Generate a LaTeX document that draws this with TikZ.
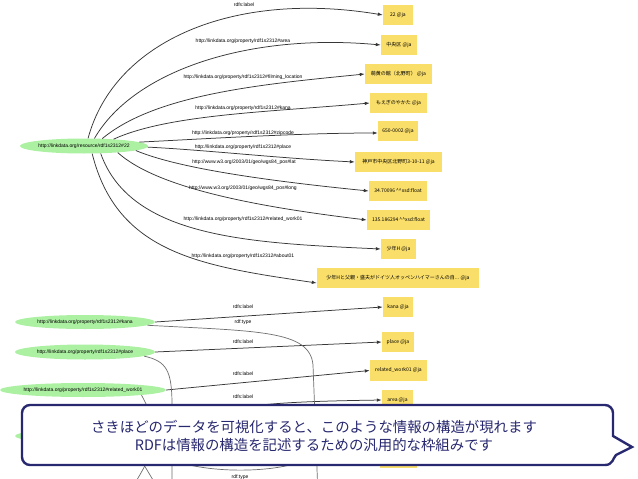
\documentclass[tikz,border=0pt]{standalone}
\usepackage{fontspec}
\setmainfont{Liberation Sans}
\newfontfamily\cjk{Noto Sans CJK JP}
\usetikzlibrary{shapes.geometric,arrows.meta,calc}
\definecolor{nodegreen}{RGB}{172,240,162}
\definecolor{boxyellow}{RGB}{250,222,106}
\definecolor{edgegray}{RGB}{55,55,55}
\definecolor{typegray}{RGB}{110,110,110}
\definecolor{navy}{RGB}{40,40,112}
\begin{document}
\begin{tikzpicture}[x=1pt,y=-1pt,
  res/.style={ellipse, fill=nodegreen, inner sep=0pt, font=\fontsize{5}{6}\selectfont},
  lit/.style={rectangle, fill=boxyellow, inner xsep=2pt, inner ysep=0pt, minimum height=20pt, font=\cjk\fontsize{5}{6}\selectfont},
  elabel/.style={inner sep=0pt, font=\fontsize{5}{6}\selectfont},
  edge/.style={draw=edgegray, line width=0.75pt, -{Latex[length=5pt,width=3.5pt]}},
  typeedge/.style={draw=typegray, line width=0.7pt},
  callout/.style={draw=navy, line width=2.4pt, fill=white},
  msgtext/.style={font=\cjk\fontsize{14.4}{18}\selectfont, text=navy, align=center, inner sep=0pt}
]
\useasboundingbox (0,0) rectangle (638,479);
\clip (0,0) rectangle (638,479);
\fill[white] (0,0) rectangle (638,479);

% ---------- upper graph ----------
\node[res, minimum width=128pt, minimum height=15pt] (src) at (84,146) {\makebox[0pt]{http://linkdata.org/resource/rdf1s2312\#22}};

\node[lit, minimum width=30pt] (b1) at (398,15) {22 @ja};
\node[lit, minimum width=36pt] (b2) at (399,45) {中央区 @ja};
\node[lit, minimum width=67pt] (b3) at (398.5,74) {萌黄の館（北野町） @ja};
\node[lit, minimum width=57pt] (b4) at (398.5,103) {もえぎのやかた @ja};
\node[lit, minimum width=40pt] (b5) at (398,131) {650-0002 @ja};
\node[lit, minimum width=87pt] (b6) at (398.5,162) {神戸市中央区北野町3-10-11 @ja};
\node[lit, minimum width=58pt] (b7) at (398,191) {34.70096 \textasciicircum\textasciicircum xsd:float};
\node[lit, minimum width=63pt] (b8) at (398.5,220) {135.186294 \textasciicircum\textasciicircum xsd:float};
\node[lit, minimum width=35pt] (b9) at (398.5,249) {少年H @ja};
\node[lit, minimum width=162pt] (b10) at (398,278) {少年Hと父親・盛夫がドイツ人オッペンハイマーさんの自... @ja};

\node[elabel] (l1) at (244,5) {rdfs:label};
\node[elabel] (l2) at (243,41) {http://linkdata.org/property/rdf1s2312\#area};
\node[elabel] (l3) at (243,77) {http://linkdata.org/property/rdf1s2312\#filming\_location};
\node[elabel] (l4) at (243,108) {http://linkdata.org/property/rdf1s2312\#kana};
\node[elabel] (l5) at (243,133) {http://linkdata.org/property/rdf1s2312\#zipcode};
\node[elabel] (l6) at (243,147) {http://linkdata.org/property/rdf1s2312\#place};
\node[elabel] (l7) at (244,162) {http://www.w3.org/2003/01/geo/wgs84\_pos\#lat};
\node[elabel] (l8) at (243,188) {http://www.w3.org/2003/01/geo/wgs84\_pos\#long};
\node[elabel] (l9) at (243,219) {http://linkdata.org/property/rdf1s2312\#related\_work01};
\node[elabel] (l10) at (243,256) {http://linkdata.org/property/rdf1s2312\#about01};

\draw[edge] (src.62) .. controls ($(src.62)+(26,-97)$) and ($(b1.west)+(-150,-25)$) .. (b1.west);
\draw[edge] (src.36) .. controls ($(src.36)+(40,-69)$) and ($(b2.west)+(-130,-12)$) .. (b2.west);
\draw[edge] (src.22) .. controls ($(src.22)+(54,-45)$) and ($(b3.west)+(-100,10)$) .. (b3.west);
\draw[edge] (src.13) .. controls ($(src.13)+(55,-25)$) and ($(b4.west)+(-100,9)$) .. (b4.west);
\draw[edge] (src.4) .. controls ($(src.4)+(60,-3)$) and ($(b5.west)+(-80,2)$) .. ($(b5.west)+(0,2)$);
\draw[edge] (src.-1) .. controls ($(src.-1)+(60,3)$) and ($(b6.west)+(-80,-4)$) .. (b6.west);
\draw[edge] (src.-5) .. controls ($(src.-5)+(45,19)$) and ($(b7.west)+(-90,-9)$) .. (b7.west);
\draw[edge] (src.-11) .. controls ($(src.-11)+(40,36)$) and ($(b8.west)+(-108,-13)$) .. (b8.west);
\draw[edge] (src.-24) .. controls ($(src.-24)+(30,85)$) and ($(b9.west)+(-129,-6)$) .. (b9.west);
\draw[edge] (src.-43) .. controls ($(src.-43)+(25,100)$) and ($(b10.west)+(-116,-12)$) .. ($(b10.west)+(0,5)$);

% ---------- lower graph ----------
\node[res, minimum width=140pt, minimum height=14pt] (ek) at (85,322) {\makebox[0pt]{http://linkdata.org/property/rdf1s2312\#kana}};
\node[res, minimum width=140pt, minimum height=15pt] (ep) at (85,352) {\makebox[0pt]{http://linkdata.org/property/rdf1s2312\#place}};
\node[res, minimum width=166pt, minimum height=14pt] (er) at (83,390) {\makebox[0pt]{http://linkdata.org/property/rdf1s2312\#related\_work01}};
\node[res, minimum width=140pt, minimum height=14pt] (ea) at (85,436) {};

\node[lit, minimum width=30pt] (bk) at (398,307) {kana @ja};
\node[lit, minimum width=32pt] (bp) at (398,342) {place @ja};
\node[lit, minimum width=57pt, minimum height=21pt] (br) at (398.5,370.5) {related\_work01 @ja};
\node[lit, minimum width=31pt] (ba) at (397.5,400) {area @ja};
\node[lit, minimum width=37pt] (bx) at (398.5,458) {};

\node[elabel] (lk) at (243,307) {rdfs:label};
\node[elabel] (lkt) at (243,322) {rdf:type};
\node[elabel] (lp) at (243,342) {rdfs:label};
\node[elabel] (lr) at (243,374) {rdfs:label};
\node[elabel] (la) at (243,397) {rdfs:label};
\node[elabel] (lbt) at (240,477) {rdf:type};

\draw[edge] (ek.east) -- (bk.west);
\draw[edge] (ep.east) -- (bp.west);
\draw[edge] (er.east) -- (br.west);
\draw[edge] (ea.east) .. controls ($(ea.east)+(60,-30)$) and ($(ba.west)+(-130,2)$) .. (ba.west);

\coordinate (kt) at (318,495);
\coordinate (pt) at (172,495);
\coordinate (ct) at (316,452);
\coordinate (d1) at (128,495);
\coordinate (d2) at (162,495);
\draw[typeedge] (ek.-3) .. controls ($(ek.-3)+(110,6)$) and ($(kt)+(-8,-165)$) .. ($(kt)+(-5,-130)$) -- (kt);
\draw[typeedge] (ep.-4) .. controls ($(ep.-4)+(22,5)$) and ($(pt)+(0,-125)$) .. ($(pt)+(0,-90)$) -- (pt);
\draw[typeedge] (ea.-4) .. controls ($(ea.-4)+(25,40)$) and ($(ct)+(-15,24)$) .. (ct);
\draw[typeedge] (er.-5) .. controls ($(er.-5)+(25,45)$) and ($(d1)+(20,-35)$) .. (d1);
\draw[typeedge] (ea.-7) -- (d2);

% ---------- callout ----------
\draw[callout] (30,405) -- (605,405) .. controls (609.4,405) and (613,408.6) .. (613,413)
  -- (613,436) -- (632,447) -- (616,455) .. controls (613,458) and (613,465) .. (605,465)
  -- (30,465) .. controls (25.6,465) and (22,461.4) .. (22,457)
  -- (22,413) .. controls (22,408.6) and (25.6,405) .. (30,405) -- cycle;
\node[msgtext] (msg) at (314,435.5) {さきほどのデータを可視化すると、このような情報の構造が現れます\\RDFは情報の構造を記述するための汎用的な枠組みです};
\end{tikzpicture}
\end{document}
